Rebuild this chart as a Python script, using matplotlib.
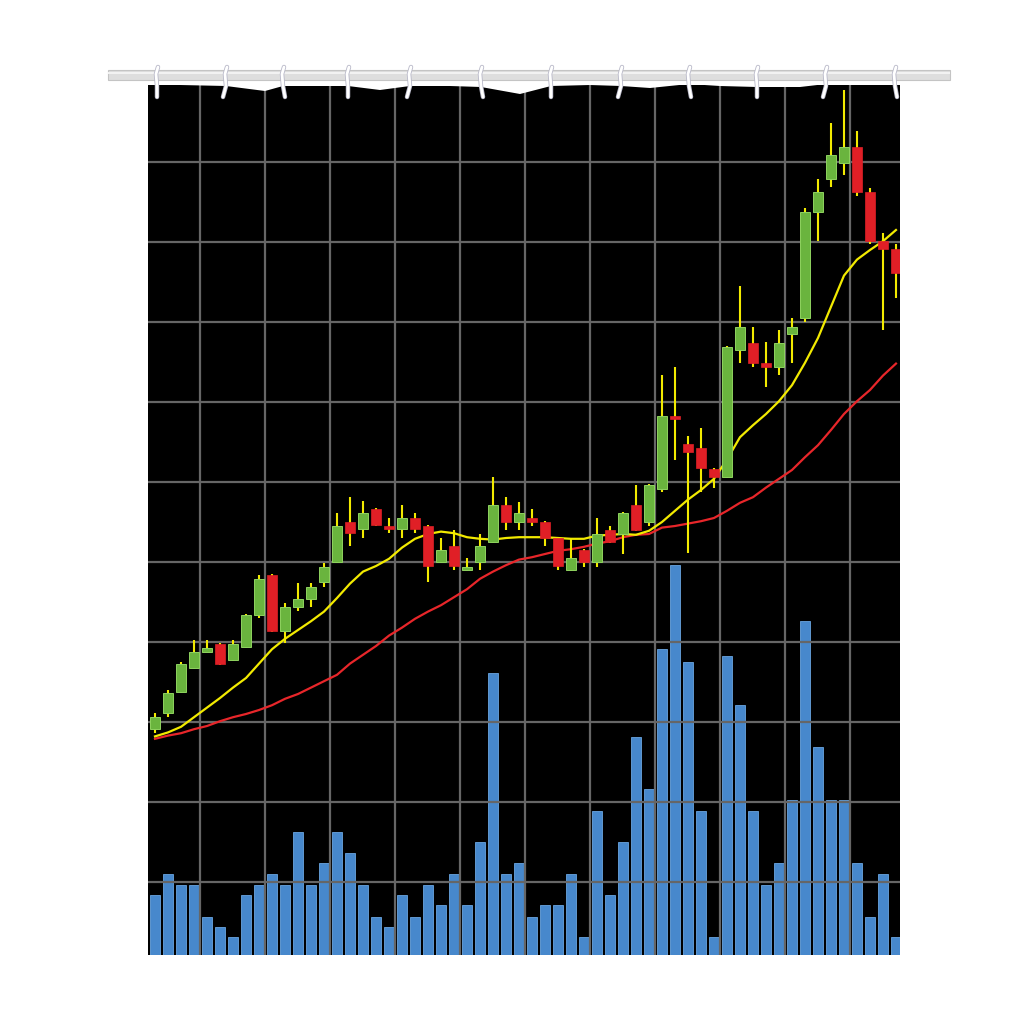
import numpy as np
import matplotlib.pyplot as plt
from matplotlib.patches import Rectangle, Polygon

# candle data (price units, grid every 10)
opens = [29.1, 31.1, 33.8, 36.8, 38.8, 39.8, 37.8, 39.4, 43.4, 48.4,
         41.4, 44.4, 45.4, 47.5, 50.0, 55.0, 54.1, 56.6, 54.5, 54.1,
         55.5, 54.5, 50.0, 52.0, 49.0, 50.0, 52.5, 57.1, 55.0, 55.5,
         55.0, 53.0, 49.0, 51.5, 50.0, 54.0, 53.5, 57.1, 55.0, 59.1,
         68.3, 64.8, 64.3, 61.6, 60.6, 76.5, 77.4, 74.9, 74.4, 78.5,
         80.5, 93.8, 97.9, 99.9, 101.9, 96.3, 90.1, 89.1]
closes = [30.6, 33.6, 37.3, 38.8, 39.3, 37.3, 39.8, 43.4, 47.9, 41.4,
          44.4, 45.4, 46.9, 49.4, 54.5, 53.6, 56.1, 54.6, 54.1, 55.5,
          54.1, 49.5, 51.5, 49.5, 49.4, 52.0, 57.1, 55.0, 56.1, 55.0,
          53.0, 49.5, 50.5, 50.0, 53.5, 52.5, 56.1, 54.0, 59.6, 68.3,
          67.9, 63.8, 61.8, 60.6, 76.9, 79.4, 74.9, 74.4, 77.4, 79.4,
          93.8, 96.3, 100.9, 101.9, 96.3, 90.1, 89.1, 86.1]
highs = [31.1, 34.0, 37.5, 40.3, 40.3, 39.9, 40.3, 43.5, 48.4, 48.5,
         44.9, 47.4, 47.4, 49.9, 56.1, 58.1, 57.6, 56.7, 55.5, 57.1,
         56.1, 54.6, 53.0, 54.0, 50.5, 53.5, 60.6, 58.1, 57.5, 56.6,
         55.1, 53.1, 53.0, 51.6, 55.5, 54.5, 56.2, 59.6, 59.7, 73.4,
         74.4, 65.8, 66.8, 61.7, 77.0, 84.5, 79.4, 77.5, 79.0, 80.5,
         94.3, 97.9, 104.9, 109.0, 103.9, 96.8, 91.1, 89.8]
lows = [28.6, 30.6, 33.6, 36.6, 38.8, 37.1, 37.6, 39.3, 43.0, 41.3,
        39.9, 43.9, 44.4, 46.9, 49.9, 52.0, 53.0, 54.5, 53.6, 53.0,
        53.6, 47.5, 49.9, 49.0, 48.9, 49.0, 52.4, 54.0, 54.0, 54.5,
        52.0, 49.0, 48.9, 49.4, 49.4, 52.4, 51.0, 53.9, 54.5, 58.8,
        62.8, 51.1, 58.8, 59.3, 60.5, 74.9, 74.4, 71.9, 73.4, 74.9,
        80.0, 90.1, 96.9, 98.4, 95.8, 89.8, 79.0, 83.0]

# moving averages
ma_fast = [28.2, 28.7, 29.4, 30.6, 31.8, 33.0, 34.3, 35.5, 37.3, 39.1,
           40.4, 41.5, 42.6, 43.8, 45.5, 47.3, 48.8, 49.5, 50.4, 51.8,
           52.9, 53.5, 53.8, 53.6, 53.1, 52.9, 52.8, 53.0, 53.1, 53.1,
           53.1, 53.0, 52.9, 52.9, 53.3, 53.4, 53.5, 53.4, 53.9, 55.0,
           56.4, 57.8, 59.0, 60.4, 62.8, 65.6, 67.1, 68.5, 70.1, 72.1,
           74.9, 78.0, 81.9, 85.8, 87.8, 89.0, 90.1, 91.5]
ma_slow = [27.9, 28.3, 28.6, 29.1, 29.5, 30.1, 30.6, 31.0, 31.5, 32.1,
           32.9, 33.5, 34.3, 35.1, 35.9, 37.3, 38.4, 39.5, 40.8, 41.8,
           42.9, 43.8, 44.6, 45.6, 46.6, 47.9, 48.8, 49.6, 50.3, 50.6,
           51.0, 51.4, 51.6, 51.9, 52.3, 52.6, 53.1, 53.4, 53.5, 54.3,
           54.5, 54.8, 55.1, 55.5, 56.4, 57.4, 58.1, 59.3, 60.4, 61.5,
           63.1, 64.6, 66.5, 68.5, 70.1, 71.5, 73.3, 74.8]

volume = [0.75, 1.01, 0.88, 0.88, 0.48, 0.35, 0.22, 0.75, 0.88, 1.01,
          0.88, 1.54, 0.88, 1.15, 1.54, 1.28, 0.88, 0.48, 0.35, 0.75,
          0.48, 0.88, 0.62, 1.01, 0.62, 1.41, 3.53, 1.01, 1.15, 0.48,
          0.62, 0.62, 1.01, 0.22, 1.80, 0.75, 1.41, 2.73, 2.07, 3.83,
          4.88, 3.66, 1.80, 0.22, 3.74, 3.13, 1.80, 0.88, 1.15, 1.94,
          4.17, 2.60, 1.94, 1.94, 1.15, 0.48, 1.01, 0.22]

x = np.arange(len(opens))
opens = np.array(opens)
closes = np.array(closes)
up = closes >= opens

GREEN = '#6ab43e'
GREEN_EDGE = '#8fd35f'
RED = '#e01f26'
YELLOW = '#f2ea00'
BLUE = '#4788cc'
GRID = '#666666'

fig = plt.figure(figsize=(10.24, 10.24), dpi=100)
fig.patch.set_facecolor('white')

# chart area (the curtain)
ax = fig.add_axes([148 / 1024, 1 - 955 / 1024, 752 / 1024, 870 / 1024])
ax.set_facecolor('black')
ax.bar(x, volume, width=0.78, color=BLUE, edgecolor='#6aa5e0', linewidth=0.6, zorder=1)
ax.set_ylim(0, 870 / 80)
ax.set_xlim(-0.54, 57.31)
ax.set_xticks(np.arange(3.46, 57, 5))
ax.set_yticks([])
ax.grid(True, axis='x', color=GRID, linewidth=1.6, zorder=2)
ax.set_axisbelow(False)
ax.tick_params(length=0, labelbottom=False, labelleft=False)

ax2 = ax.twinx()
ax2.set_ylim(0.875, 109.625)
ax2.set_yticks(np.arange(10, 101, 10))
ax2.grid(True, axis='y', color=GRID, linewidth=1.6)
ax2.set_axisbelow(True)
ax2.tick_params(length=0, labelleft=False, labelright=False)

# moving averages
ax2.plot(x, ma_slow, color='#e8262a', linewidth=1.6, zorder=2)
ax2.plot(x, ma_fast, color=YELLOW, linewidth=1.6, zorder=2)

# candles
ax2.vlines(x, lows, highs, color=YELLOW, linewidth=1.5, zorder=3)
body = np.abs(closes - opens)
body = np.maximum(body, 0.4)
bottoms = np.minimum(opens, closes)
ax2.bar(x[up], body[up], bottom=bottoms[up], width=0.75,
        color=GREEN, edgecolor=GREEN_EDGE, linewidth=0.7, zorder=4)
ax2.bar(x[~up], body[~up], bottom=bottoms[~up], width=0.75,
        color=RED, edgecolor=RED, linewidth=0.5, zorder=4)

for a in (ax, ax2):
    for s in a.spines.values():
        s.set_visible(False)

# wavy top edge of the curtain
def fx(px):
    return px / 1024

def fy(py):
    return 1 - py / 1024

wave = [(140, 80), (905, 80), (905, 84), (895, 84), (826, 84), (800, 87), (757, 87),
        (720, 86), (689, 84), (650, 88), (621, 86), (590, 85), (551, 86),
        (520, 94), (481, 87), (450, 86), (410, 86), (380, 90), (348, 86),
        (310, 86), (283, 86), (265, 91), (226, 86), (180, 85), (140, 85)]
fig.patches.append(Polygon([(fx(a), fy(b)) for a, b in wave], closed=True,
                           facecolor='white', edgecolor='none',
                           transform=fig.transFigure, figure=fig, zorder=5))

# rod
fig.patches.append(Rectangle((fx(108), fy(80)), 842 / 1024, 10 / 1024,
                             facecolor='#dedede', edgecolor='#c4c4c4', linewidth=0.8,
                             transform=fig.transFigure, figure=fig, zorder=6))
fig.patches.append(Rectangle((fx(108), fy(74)), 842 / 1024, 2 / 1024,
                             facecolor='#f2f2f2', edgecolor='none',
                             transform=fig.transFigure, figure=fig, zorder=7))

# hooks
hooks = [157, 226, 283, 348, 410, 481, 551, 621, 689, 757, 826, 895]
for i, h in enumerate(hooks):
    bend = 3 if i % 3 == 1 else (-2 if i % 3 == 2 else 0)
    xs = [fx(h + 1), fx(h - 1), fx(h), fx(h - bend)]
    ys = [fy(67), fy(74), fy(86), fy(97)]
    fig.add_artist(plt.Line2D(xs, ys, color='#b8b8c8', linewidth=3.2,
                              transform=fig.transFigure, zorder=8,
                              solid_capstyle='round'))
    fig.add_artist(plt.Line2D(xs, ys, color='white', linewidth=2.0,
                              transform=fig.transFigure, zorder=9,
                              solid_capstyle='round'))

fig.savefig('out.png', dpi=100, facecolor='white')
